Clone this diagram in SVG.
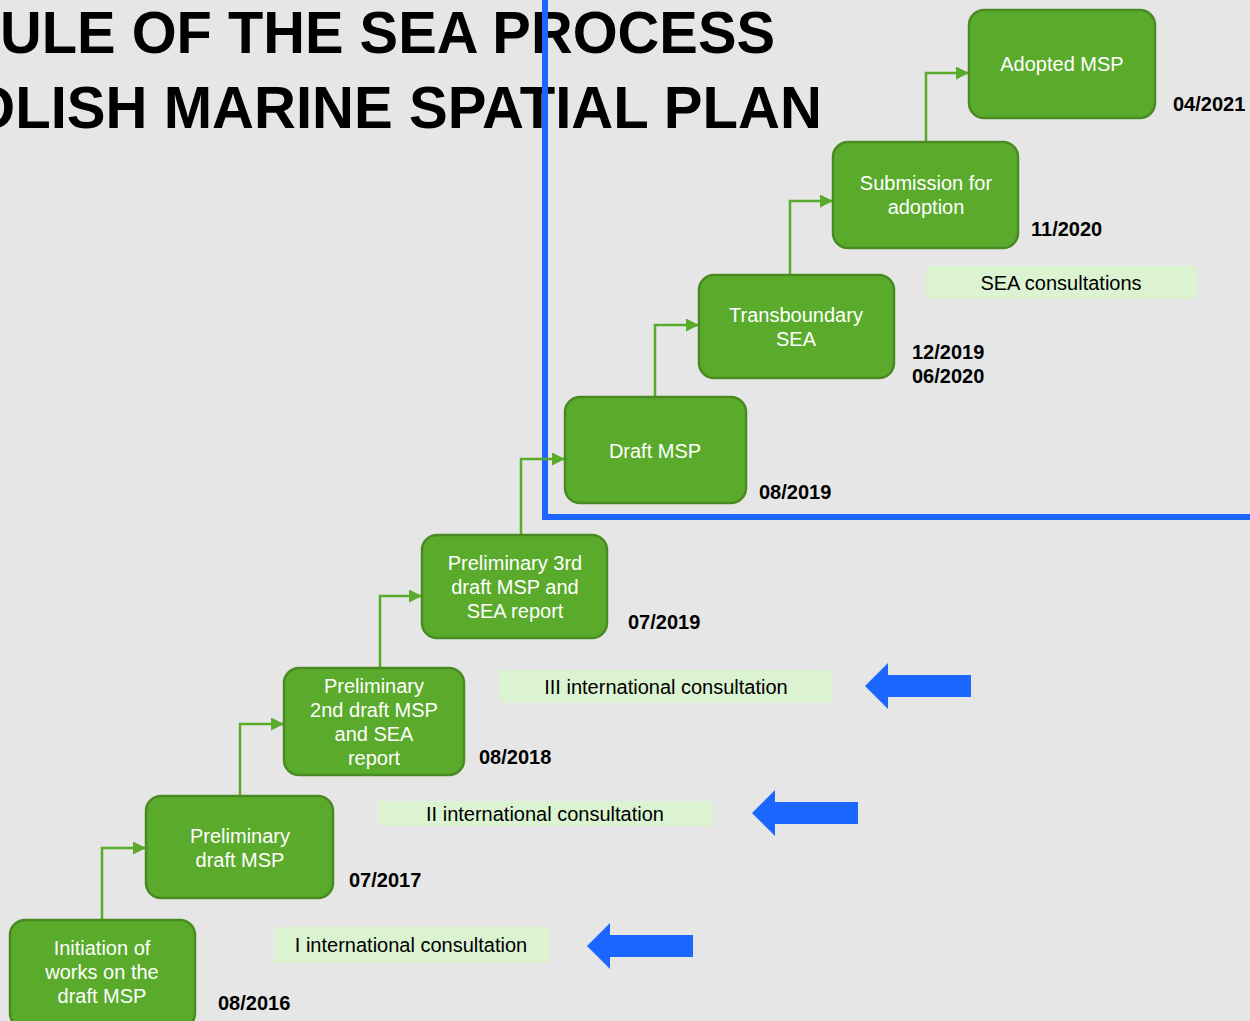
<svg xmlns="http://www.w3.org/2000/svg" width="1250" height="1021" viewBox="0 0 1250 1021">
<defs>
<style>
.node rect{fill:#5aab2b;stroke:#4a8a22;stroke-width:2.5}
.node text{fill:#fff;font-family:"Liberation Sans",Arial,sans-serif;font-size:20px;text-anchor:middle}
.date{fill:#000;font-family:"Liberation Sans",Arial,sans-serif;font-size:20px;font-weight:bold}
.cons rect{fill:#dbf3d0}
.cons text{fill:#000;font-family:"Liberation Sans",Arial,sans-serif;font-size:20px;text-anchor:middle}
.title{fill:#000;font-family:"Liberation Sans",Arial,sans-serif;font-size:60px;font-weight:bold}
.conn{fill:none;stroke:#5aab2b;stroke-width:2.5}
.barrow{fill:#1a66ff}
</style>
<marker id="ah" markerWidth="13" markerHeight="13" refX="12" refY="6.5" orient="auto" markerUnits="userSpaceOnUse" viewBox="0 0 13 13">
<path d="M0,0 L13,6.5 L0,13 Z" fill="#5aab2b"/>
</marker>
</defs>
<rect width="1250" height="1021" fill="#e6e6e6"/>
<text class="title" x="0" y="53" textLength="775" lengthAdjust="spacingAndGlyphs">ULE OF THE SEA PROCESS</text>
<text class="title" x="-30" y="128" textLength="852" lengthAdjust="spacingAndGlyphs">OLISH MARINE SPATIAL PLAN</text>
<g id="frame" fill="none" stroke="#1a66ff" stroke-width="6">
<path d="M545,0 L545,517 L1250,517"/>
</g>
<g id="connectors">
<path class="conn" d="M102,920 V848 H145" marker-end="url(#ah)"/>
<path class="conn" d="M240,796 V724 H283" marker-end="url(#ah)"/>
<path class="conn" d="M380,668 V596 H421" marker-end="url(#ah)"/>
<path class="conn" d="M521,535 V459 H564" marker-end="url(#ah)"/>
<path class="conn" d="M655,397 V325 H698" marker-end="url(#ah)"/>
<path class="conn" d="M790,275 V201 H832" marker-end="url(#ah)"/>
<path class="conn" d="M926,142 V73 H968" marker-end="url(#ah)"/>
</g>
<g id="n1" class="node"><rect x="10" y="920" width="185" height="108" rx="15"/>
<text x="102" y="955">Initiation of</text><text x="102" y="979">works on the</text><text x="102" y="1003">draft MSP</text></g>
<g id="n2" class="node"><rect x="146" y="796" width="187" height="102" rx="15"/>
<text x="240" y="843">Preliminary</text><text x="240" y="867">draft MSP</text></g>
<g id="n3" class="node"><rect x="284" y="668" width="180" height="107" rx="15"/>
<text x="374" y="693">Preliminary</text><text x="374" y="717">2nd draft MSP</text><text x="374" y="741">and SEA</text><text x="374" y="765">report</text></g>
<g id="n4" class="node"><rect x="422" y="535" width="185" height="103" rx="15"/>
<text x="515" y="570">Preliminary 3rd</text><text x="515" y="594">draft MSP and</text><text x="515" y="618">SEA report</text></g>
<g id="n5" class="node"><rect x="565" y="397" width="181" height="106" rx="15"/>
<text x="655" y="458">Draft MSP</text></g>
<g id="n6" class="node"><rect x="699" y="275" width="195" height="103" rx="15"/>
<text x="796" y="322">Transboundary</text><text x="796" y="346">SEA</text></g>
<g id="n7" class="node"><rect x="833" y="142" width="185" height="106" rx="15"/>
<text x="926" y="190">Submission for</text><text x="926" y="214">adoption</text></g>
<g id="n8" class="node"><rect x="969" y="10" width="186" height="108" rx="15"/>
<text x="1062" y="71">Adopted MSP</text></g>
<g id="dates">
<text class="date" x="218" y="1010">08/2016</text>
<text class="date" x="349" y="887">07/2017</text>
<text class="date" x="479" y="764">08/2018</text>
<text class="date" x="628" y="629">07/2019</text>
<text class="date" x="759" y="499">08/2019</text>
<text class="date" x="912" y="359">12/2019</text>
<text class="date" x="912" y="383">06/2020</text>
<text class="date" x="1031" y="236">11/2020</text>
<text class="date" x="1173" y="111">04/2021</text>
</g>
<g id="c1" class="cons"><rect x="274" y="927" width="275" height="36" rx="4"/><text x="411" y="952">I international consultation</text></g>
<g id="c2" class="cons"><rect x="378" y="801" width="335" height="25" rx="4"/><text x="545" y="821">II international consultation</text></g>
<g id="c3" class="cons"><rect x="499" y="670" width="334" height="33" rx="4"/><text x="666" y="694">III international consultation</text></g>
<g id="c4" class="cons"><rect x="926" y="266" width="271" height="33" rx="4"/><text x="1061" y="290">SEA consultations</text></g>
<g id="blue-arrows">
<path class="barrow" d="M587,946 L610,923 L610,935 L693,935 L693,957 L610,957 L610,969 Z"/>
<path class="barrow" d="M752,813 L775,790 L775,802 L858,802 L858,824 L775,824 L775,836 Z"/>
<path class="barrow" d="M865,686 L888,663 L888,675 L971,675 L971,697 L888,697 L888,709 Z"/>
</g>
</svg>
